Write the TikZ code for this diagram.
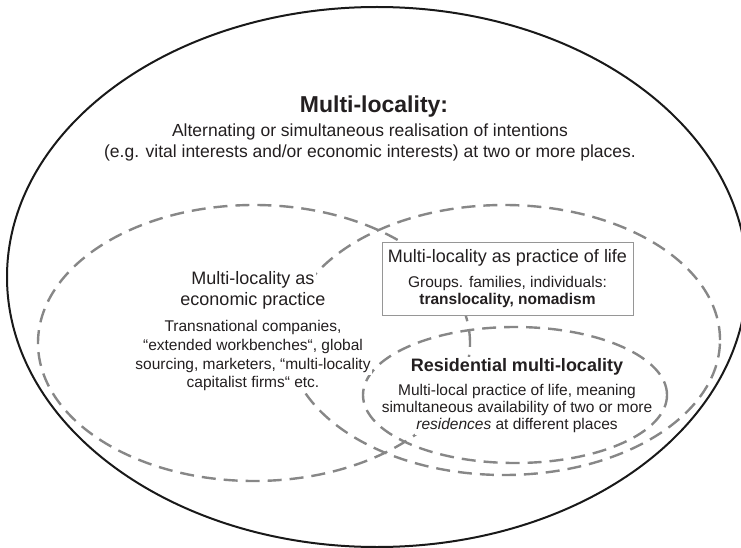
\documentclass[tikz,border=0pt]{standalone}
\usepackage{fontspec}
\setmainfont{Liberation Sans}
\definecolor{textc}{RGB}{35,31,32}
\definecolor{dashc}{RGB}{135,135,135}
\definecolor{boxc}{RGB}{150,150,150}
\begin{document}
\begin{tikzpicture}[x=1pt,y=-1pt,
  dashell/.style={draw=dashc, line width=2.4pt, dash pattern=on 14pt off 8pt},
  outerell/.style={draw=black!90, line width=2pt},
  txt/.style={fill=white, text=textc, anchor=base, inner xsep=1pt, inner ysep=0pt},
  headf/.style={txt, font=\fontsize{18}{21}\selectfont, text height=14pt, text depth=7pt},
  headb/.style={txt, font=\fontsize{18}{21}\selectfont\bfseries, text height=14pt, text depth=7pt},
  econd/.style={txt, font=\fontsize{15.5}{18}\selectfont, text height=12.5pt, text depth=6pt},
  resd/.style={txt, font=\fontsize{15.5}{18}\selectfont, text height=11.5pt, text depth=5.3pt},
  mainl/.style={txt, font=\fontsize{17.5}{21}\selectfont, text height=13pt, text depth=8pt},
  titlef/.style={txt, font=\fontsize{23}{27}\selectfont\bfseries},
  lifebox/.style={draw=boxc, line width=0.9pt, fill=white, inner sep=0pt}
]
\useasboundingbox (0,0) rectangle (741,548);
\clip (0,0) rectangle (741,548);
\draw[outerell] (377,277) ellipse [x radius=370pt, y radius=270pt];
\draw[dashell] (254,343) ellipse [x radius=216pt, y radius=138pt];
\draw[dashell] (504,340) ellipse [x radius=216pt, y radius=135pt];
\draw[dashell] (515,395) ellipse [x radius=152pt, y radius=68pt];
\node[lifebox, minimum width=251pt, minimum height=73pt] (box) at (507.5,278.5) {};

\node[titlef] (title) at (374,113) {Multi-locality:};
\node[mainl] (def1) at (370,137) {Alternating or simultaneous realisation of intentions};
\node[mainl] (def2) at (370,158) {(e.g. vital interests and/or economic interests) at two or more places.};

\node[headf] (eco1) at (253,284) {Multi-locality as};
\node[headf, text depth=15pt] (eco2) at (253,305) {economic practice};
\node[econd] (eco3) at (253,331.7) {Transnational companies,};
\node[econd] (eco4) at (253,350.5) {“extended workbenches“, global};
\node[econd] (eco5) at (253,369) {sourcing, marketers, “multi-locality};
\node[econd] (eco6) at (253,387.3) {capitalist firms“ etc.};

\node[headf, fill=none] (life1) at (507.5,262) {Multi-locality as practice of life};
\node[econd, fill=none] (life2) at (507.5,287.3) {Groups. families, individuals:};
\node[econd, fill=none] (life3) at (507.5,304) {\bfseries translocality, nomadism};

\node[headb, text depth=13pt] (res1) at (517,371) {Residential multi-locality};
\node[resd, text height=12pt] (res2) at (517,395.7) {Multi-local practice of life, meaning};
\node[resd] (res3) at (517,412.3) {simultaneous availability of two or more};
\node[resd] (res4) at (517,429.3) {\textit{residences} at different places};
\end{tikzpicture}
\end{document}
